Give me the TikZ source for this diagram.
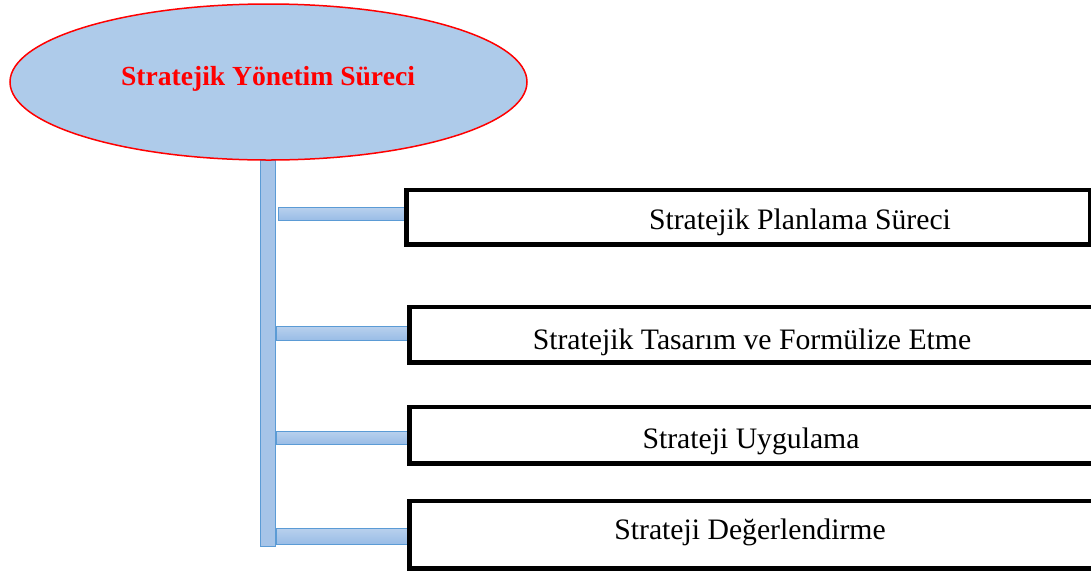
\documentclass[tikz,border=0pt]{standalone}
\usepackage{fontspec}
\setmainfont{Liberation Serif}
\usetikzlibrary{shapes.geometric,calc}
\definecolor{ellfill}{RGB}{174,203,234}
\definecolor{barfill}{RGB}{166,196,232}
\definecolor{bartop}{RGB}{184,208,237}
\definecolor{barbot}{RGB}{152,188,230}
\definecolor{barline}{RGB}{91,155,213}
\definecolor{titlered}{RGB}{255,0,0}
\tikzset{
  ellbox/.style={ellipse, draw=titlered, line width=1.5pt, fill=ellfill, inner sep=0pt, minimum width=517pt, minimum height=156pt},
  vbarstyle/.style={rectangle, draw=barline, line width=1.5pt, fill=barfill, inner sep=0pt, minimum width=15pt, minimum height=386pt},
  hbar/.style={draw=barline, line width=1.2pt, top color=bartop, bottom color=barbot},
  stepbox/.style={rectangle, draw=black, line width=3pt, fill=white, inner sep=0pt, minimum width=682pt},
  steptext/.style={anchor=base, font=\fontsize{29.7}{33}\selectfont, inner sep=0pt},
}
\begin{document}
\begin{tikzpicture}[x=1pt,y=-1pt]
\useasboundingbox (0,0) rectangle (1091,571);
% vertical bar
\node[vbarstyle] (vbar) at (268,353.5) {};
% ellipse
\node[ellbox] (ell) at (268.5,82) {};
\node[anchor=base, inner sep=0pt, font=\fontsize{27.6}{30}\selectfont\bfseries, text=titlered] (title) at (268,85) {Stratejik Yönetim Süreci};
% boxes
\node[stepbox, minimum height=53pt] (b1) at (748,217) {};
\node[stepbox, minimum height=54pt] (b2) at (751,334.5) {};
\node[stepbox, minimum height=55pt] (b3) at (751,435) {};
\node[stepbox, minimum height=66pt] (b4) at (751,534.5) {};
% texts
\node[steptext] (t1) at (800,229) {Stratejik Planlama Süreci};
\node[steptext] (t2) at (752,349) {Stratejik Tasarım ve Formülize Etme};
\node[steptext] (t3) at (751,448) {Strateji Uygulama};
\node[steptext] (t4) at (750,539) {Strateji Değerlendirme};
% horizontal bars
\path[hbar] ([xshift=2.5pt]vbar.east |- 0,207.5) rectangle (b1.west |- 0,220.5);
\path[hbar] (vbar.east |- 0,326.5) rectangle (b2.west |- 0,340.5);
\path[hbar] (vbar.east |- 0,431.5) rectangle (b3.west |- 0,444.5);
\path[hbar] (vbar.east |- 0,528.5) rectangle (b4.west |- 0,544.5);
% redraw box borders over bar ends
\draw[line width=3pt] (b1.north west) rectangle (b1.south east);
\draw[line width=3pt] (b2.north west) rectangle (b2.south east);
\draw[line width=3pt] (b3.north west) rectangle (b3.south east);
\draw[line width=3pt] (b4.north west) rectangle (b4.south east);
\end{tikzpicture}
\end{document}
